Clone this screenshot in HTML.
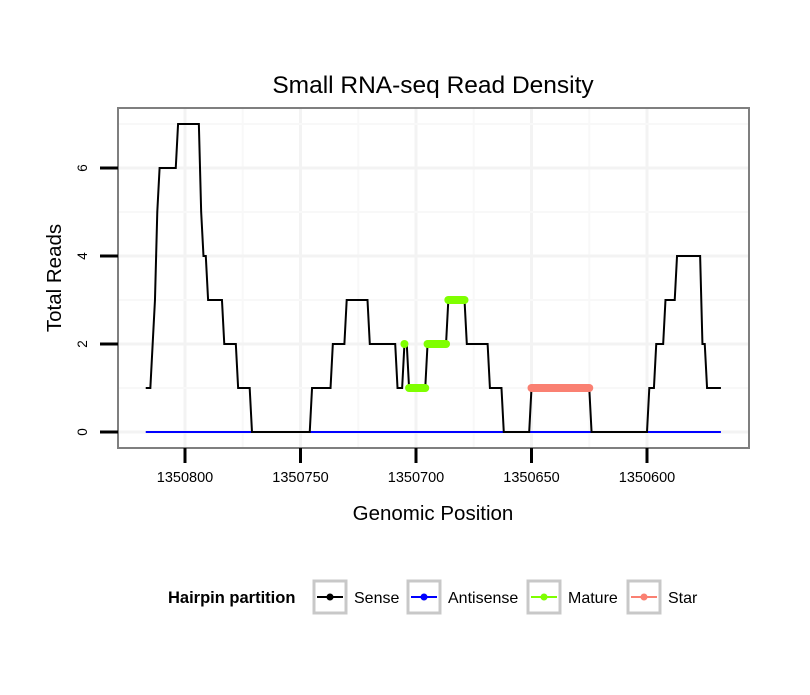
<!DOCTYPE html>
<html><head><meta charset="utf-8"><style>
body{margin:0;background:#fff;font-family:"Liberation Sans",sans-serif}
</style></head><body>
<svg id="c" width="810" height="690" xmlns="http://www.w3.org/2000/svg" font-family="Liberation Sans, sans-serif"></svg>
<script>
const sensePos=[1350817,1350815,1350813,1350812,1350811,1350804,1350803,1350794,1350793,1350792,1350791,1350790,1350784,1350783,1350778,1350777,1350772,1350771,1350746,1350745,1350737,1350736,1350731,1350730,1350721,1350720,1350709,1350708,1350706,1350705,1350704,1350703,1350696,1350695,1350687,1350686,1350679,1350678,1350669,1350668,1350663,1350662,1350651,1350650,1350625,1350624,1350600,1350599,1350597,1350596,1350593,1350592,1350588,1350587,1350577,1350576,1350575,1350574,1350568];
const senseVal=[1,1,3,5,6,6,7,7,5,4,4,3,3,2,2,1,1,0,0,1,1,2,2,3,3,2,2,1,1,2,2,1,1,2,2,3,3,2,2,1,1,0,0,1,1,0,0,1,1,2,2,3,3,4,4,2,2,1,1];
const antisensePos=[1350817,1350568];
const antisenseVal=[0,0];
const matureStart=[1350705,1350703,1350695,1350686];
const matureEnd=[1350705,1350696,1350687,1350679];
const matureVal=[2,1,2,3];
const starStart=[1350650];
const starEnd=[1350625];
const starVal=[1];
const xTicks=[1350800,1350750,1350700,1350650,1350600];
const yTicks=[0,2,4,6];
const legendLabels=["Sense","Antisense","Mature","Star"];
const legendColors=["#000000","#0000ff","#7fff00","#fa8072"];

const svg=document.getElementById('c');const NS='http://www.w3.org/2000/svg';
const L=118,R=749,T=108,B=448;
const X=p=>185+(1350800-p)*2.31;
const Y=v=>432-v*44;
function el(tag,attrs,parent){const e=document.createElementNS(NS,tag);for(const k in attrs)e.setAttribute(k,attrs[k]);(parent||svg).appendChild(e);return e;}
function txt(s,attrs){const t=el('text',attrs);t.textContent=s;return t;}

const panel=el('rect',{x:L,y:T,width:R-L,height:B-T,fill:'#fff'});


for(let i=0;i<xTicks.length;i++){
  const g=el('line',{x1:X(xTicks[i]),x2:X(xTicks[i]),y1:T,y2:B,stroke:'#f3f3f3','stroke-width':3});
  
  
  if(i<xTicks.length-1){const m=(xTicks[i]+xTicks[i+1])/2;
    const gm=el('line',{x1:X(m),x2:X(m),y1:T,y2:B,stroke:'#f8f8f8','stroke-width':2});
    
    }
}
for(let v=0;v<=7;v++){
  const g=el('line',{x1:L,x2:R,y1:Y(v),y2:Y(v),stroke:v%2?'#f8f8f8':'#f3f3f3','stroke-width':v%2?2:3});
  
  
}
const a=el('polyline',{points:antisensePos.map((p,i)=>X(p)+','+Y(antisenseVal[i])).join(' '),fill:'none',stroke:'#0000ff','stroke-width':2});


const s=el('polyline',{points:sensePos.map((p,i)=>X(p)+','+Y(senseVal[i])).join(' '),fill:'none',stroke:'#000','stroke-width':2,'stroke-linejoin':'miter'});


for(let i=0;i<matureVal.length;i++){
  const m=el('line',{x1:X(matureStart[i]),x2:X(matureEnd[i]),y1:Y(matureVal[i]),y2:Y(matureVal[i]),stroke:'#7fff00','stroke-width':8,'stroke-linecap':'round'});
  
  
}
for(let i=0;i<starVal.length;i++){
  const m=el('line',{x1:X(starStart[i]),x2:X(starEnd[i]),y1:Y(starVal[i]),y2:Y(starVal[i]),stroke:'#fa8072','stroke-width':8,'stroke-linecap':'round'});
  
  
}
const bd=el('rect',{x:L,y:T,width:R-L,height:B-T,fill:'none',stroke:'#7f7f7f','stroke-width':2});


xTicks.forEach(t=>{
  const k=el('line',{x1:X(t),x2:X(t),y1:B,y2:B+15,stroke:'#000','stroke-width':3});
  
  
  const l=txt(t,{x:X(t),y:482,'font-size':14.5,'text-anchor':'middle',fill:'#000'});
  
  
});
yTicks.forEach(t=>{
  const k=el('line',{x1:100,x2:L,y1:Y(t),y2:Y(t),stroke:'#000','stroke-width':3});
  
  
  const l=txt(t,{x:0,y:0,'font-size':13.5,'text-anchor':'middle',transform:`translate(87,${Y(t)}) rotate(-90)`});
  
  
});
const ti=txt('Small RNA-seq Read Density',{x:433,y:93,'font-size':24.5,'text-anchor':'middle'});


const xt=txt('Genomic Position',{x:433,y:520,'font-size':20.5,'text-anchor':'middle'});


const yt=txt('Total Reads',{x:0,y:0,'font-size':20.5,'text-anchor':'middle',transform:'translate(61,278) rotate(-90)'});


const lt=txt('Hairpin partition',{x:168,y:603,'font-size':16.5,'font-weight':'bold'});


const boxX=[314,408,528,628];
legendLabels.forEach((lab,i)=>{
  const g=el('g',{});
  
  
  el('rect',{x:boxX[i],y:581,width:32,height:32,fill:'#fff',stroke:'#c8c8c8','stroke-width':3},g);
  el('line',{x1:boxX[i]+3,x2:boxX[i]+29,y1:597,y2:597,stroke:legendColors[i],'stroke-width':2},g);
  el('circle',{cx:boxX[i]+16,cy:597,r:3.5,fill:legendColors[i]},g);
  const t=el('text',{x:boxX[i]+40,y:603,'font-size':16},g);t.textContent=lab;
});
</script>
</body></html>
